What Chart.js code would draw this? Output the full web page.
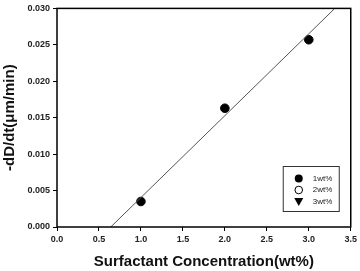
<!DOCTYPE html>
<html>
<head>
<meta charset="utf-8">
<script src="https://cdn.jsdelivr.net/npm/chart.js@4"></script>
<style>
  html, body { margin: 0; padding: 0; background: #fff; }
  #wrap { width: 360px; height: 271px; }
</style>
</head>
<body>
<div id="wrap"><canvas id="myChart"></canvas></div>
<script>
// data
let concentration = [1.0, 2.0, 3.0];
let rate1wt = [0.0035, 0.0163, 0.0257];
let fitX = [0.64, 3.31];
let fitY = [0.0, 0.030];
let seriesNames = ["1wt%", "2wt%", "3wt%"];
let xTicks = [0, 0.5, 1.0, 1.5, 2.0, 2.5, 3.0, 3.5];
let yTicks = [0, 0.005, 0.010, 0.015, 0.020, 0.025, 0.030];

function toPoints(xs, ys) {
   return xs.map((x, i) => ({ x: x, y: ys[i] }));
}

// frame round the plot area + legend box inside it
const framePlugin = {
   id: "frame",
   afterDraw(chart) {
      const ctx = chart.ctx;
      const a = chart.chartArea;
      ctx.save();
      ctx.strokeStyle = "#000";
      ctx.lineWidth = 1.5;
      ctx.strokeRect(a.left, a.top, a.right - a.left, a.bottom - a.top);

      // legend
      const bw = 56, bh = 45;
      const bx = a.right - 12 - bw, by = a.bottom - 16 - bh;
      ctx.lineWidth = 1;
      ctx.strokeStyle = "#333";
      ctx.strokeRect(bx + 0.5, by + 0.5, bw, bh);
      ctx.font = "8px 'Liberation Sans', Arial, sans-serif";
      ctx.textBaseline = "middle";
      ctx.fillStyle = "#222";
      seriesNames.forEach((name, i) => {
         const cy = by + 12.5 + i * 11.5;
         const cx = bx + 16;
         ctx.beginPath();
         if (i === 0) {
            ctx.arc(cx, cy, 4, 0, Math.PI * 2);
            ctx.fillStyle = "#000";
            ctx.fill();
         } else if (i === 1) {
            ctx.arc(cx, cy, 3.8, 0, Math.PI * 2);
            ctx.strokeStyle = "#000";
            ctx.lineWidth = 1;
            ctx.stroke();
         } else {
            ctx.moveTo(cx - 4.5, cy - 3.5);
            ctx.lineTo(cx + 4.5, cy - 3.5);
            ctx.lineTo(cx, cy + 4.5);
            ctx.closePath();
            ctx.fillStyle = "#000";
            ctx.fill();
         }
         ctx.fillStyle = "#222";
         ctx.fillText(name, bx + 30, cy);
      });
      ctx.restore();
   }
};

let ctx = document.getElementById("myChart").getContext("2d");
let newChart = new Chart(ctx, {
   type: "scatter",
   data: {
      datasets: [{
         label: "fit",
         type: "line",
         data: toPoints(fitX, fitY),
         borderColor: "#555",
         borderWidth: 1,
         pointRadius: 0,
         fill: false
      }, {
         label: seriesNames[0],
         data: toPoints(concentration, rate1wt),
         backgroundColor: "#000",
         borderColor: "#000",
         pointRadius: 4.3,
         pointStyle: "circle"
      }, {
         label: seriesNames[1],
         data: [],
         backgroundColor: "#fff",
         borderColor: "#000",
         pointStyle: "circle"
      }, {
         label: seriesNames[2],
         data: [],
         backgroundColor: "#000",
         borderColor: "#000",
         pointStyle: "triangle",
         rotation: 180
      }]
   },
   options: {
      responsive: true,
      maintainAspectRatio: false,
      animation: false,
      layout: { padding: { left: 0, right: 5, top: 7, bottom: 0 } },
      plugins: {
         legend: { display: false },
         tooltip: { enabled: false }
      },
      scales: {
         x: {
            type: "linear",
            min: 0,
            max: 3.5,
            afterBuildTicks: (s) => { s.ticks = xTicks.map(v => ({ value: v })); },
            afterFit: (s) => { s.height = 44; },
            grid: { drawOnChartArea: false, drawTicks: true, tickLength: 4, color: "#000" },
            border: { display: false },
            ticks: {
               color: "#222",
               padding: 3,
               maxRotation: 0,
               font: { family: "'Liberation Sans', Arial, sans-serif", size: 9, weight: "bold" },
               callback: (v) => v.toFixed(1)
            },
            title: {
               display: true,
               text: "Surfactant Concentration(wt%)",
               color: "#111",
               padding: { top: 4, bottom: 0 },
               font: { family: "'Liberation Sans', Arial, sans-serif", size: 15, weight: "bold" }
            }
         },
         y: {
            type: "linear",
            min: 0,
            max: 0.03,
            afterBuildTicks: (s) => { s.ticks = yTicks.map(v => ({ value: v })); },
            afterFit: (s) => { s.width = 57; },
            grid: { drawOnChartArea: false, drawTicks: true, tickLength: 4, color: "#000" },
            border: { display: false },
            ticks: {
               color: "#222",
               padding: 3,
               font: { family: "'Liberation Sans', Arial, sans-serif", size: 9, weight: "bold" },
               callback: (v) => v.toFixed(3)
            },
            title: {
               display: true,
               text: "-dD/dt(\u03bcm/min)",
               color: "#111",
               padding: { top: 1, bottom: 2 },
               font: { family: "'Liberation Sans', Arial, sans-serif", size: 15, weight: "bold" }
            }
         }
      }
   },
   plugins: [framePlugin]
});
</script>
</body>
</html>
